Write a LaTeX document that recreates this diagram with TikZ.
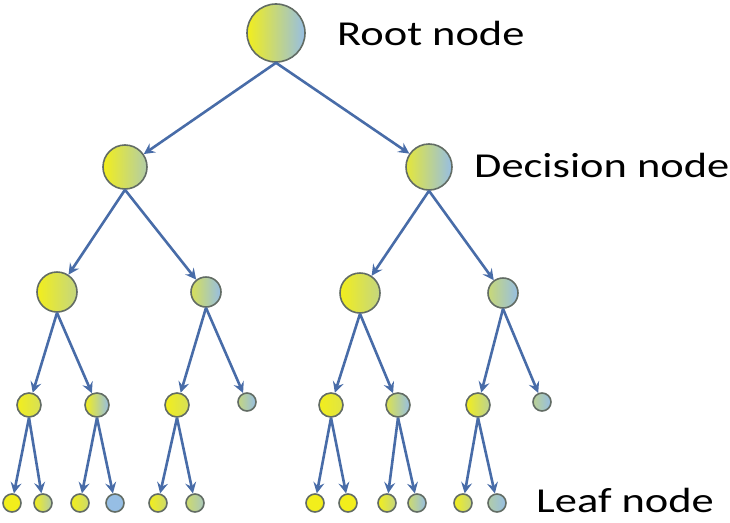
\documentclass[tikz,border=0pt]{standalone}
\usepackage{fontspec}
\setmainfont{Carlito}
\usetikzlibrary{arrows.meta}

\definecolor{Y}{RGB}{242,238,28}
\definecolor{B}{RGB}{150,190,228}
\definecolor{edgecol}{RGB}{72,108,168}
\definecolor{rimcol}{RGB}{98,108,100}

\tikzset{
  tnode/.style={circle, draw=rimcol, line width=1.6pt, inner sep=0pt, minimum size=#1},
  arr/.style={draw=edgecol, line width=2.6pt,
    -{Stealth[length=11pt,width=11pt,inset=4pt]}},
  lbl/.style={anchor=base west, inner sep=0pt, text=black,
    font=\fontsize{35}{40}\selectfont}
}

% \tn{name}{x}{y}{diameter}{left colour}{right colour}
\newcommand{\tn}[6]{\node[tnode=#4, left color=#5, right color=#6] (#1) at (#2,#3) {};}

\begin{document}
\begin{tikzpicture}[x=1pt, y=-1pt]
\useasboundingbox (0,0) rectangle (730,522);

% root and decision nodes
\tn{r}{276}{33}{58}{Y}{B}
\tn{d1}{125}{167}{44}{Y}{B!70!Y}
\tn{d2}{429}{167}{46}{Y!85!B}{B}

% second level
\tn{a1}{57}{292}{40}{Y}{B!50!Y}
\tn{a2}{206}{292}{30}{Y!70!B}{B}
\tn{a3}{360}{293}{40}{Y}{B!50!Y}
\tn{a4}{503}{293}{30}{Y!55!B}{B}

% third level
\tn{b1}{29}{405}{24}{Y}{Y!70!B}
\tn{b2}{97}{405}{24}{Y}{B}
\tn{b3}{177}{405}{24}{Y}{Y!70!B}
\tn{b4}{247}{402}{18}{Y!50!B}{B}
\tn{b5}{331}{405}{24}{Y}{Y!80!B}
\tn{b6}{398}{405}{24}{Y!75!B}{B}
\tn{b7}{478}{405}{24}{Y}{B!60!Y}
\tn{b8}{542}{402}{18}{Y!40!B}{B}

% leaves
\tn{l1}{12}{503}{18}{Y}{Y}
\tn{l2}{43}{503}{18}{Y}{B!70!Y}
\tn{l3}{80}{503}{18}{Y}{Y!60!B}
\tn{l4}{115}{503}{18}{B}{B}
\tn{l5}{158}{503}{18}{Y}{Y!60!B}
\tn{l6}{195}{503}{18}{Y!60!B}{B!80!Y}
\tn{l7}{315}{503}{18}{Y}{Y}
\tn{l8}{348}{503}{18}{Y}{Y}
\tn{l9}{387}{503}{18}{Y}{Y!50!B}
\tn{l10}{417}{503}{18}{Y!60!B}{B}
\tn{l11}{463}{503}{18}{Y}{Y!50!B}
\tn{l12}{497}{503}{18}{B!70!Y}{B}

% connectors
\foreach \p/\c in {r/d1, r/d2, d1/a1, d1/a2, d2/a3, d2/a4,
                   a1/b1, a1/b2, a2/b3, a2/b4, a3/b5, a3/b6, a4/b7, a4/b8,
                   b1/l1, b1/l2, b2/l3, b2/l4, b3/l5, b3/l6,
                   b5/l7, b5/l8, b6/l9, b6/l10, b7/l11, b7/l12}
  \draw[arr] (\p.south) -- (\c);

% labels
\node[lbl] (troot) at (337,45) {\scalebox{1.27}[1]{Root node}};
\node[lbl] (tdec) at (474,177) {\scalebox{1.27}[1]{Decision node}};
\node[lbl] (tleaf) at (536,512) {\scalebox{1.27}[1]{Leaf node}};
\end{tikzpicture}
\end{document}
